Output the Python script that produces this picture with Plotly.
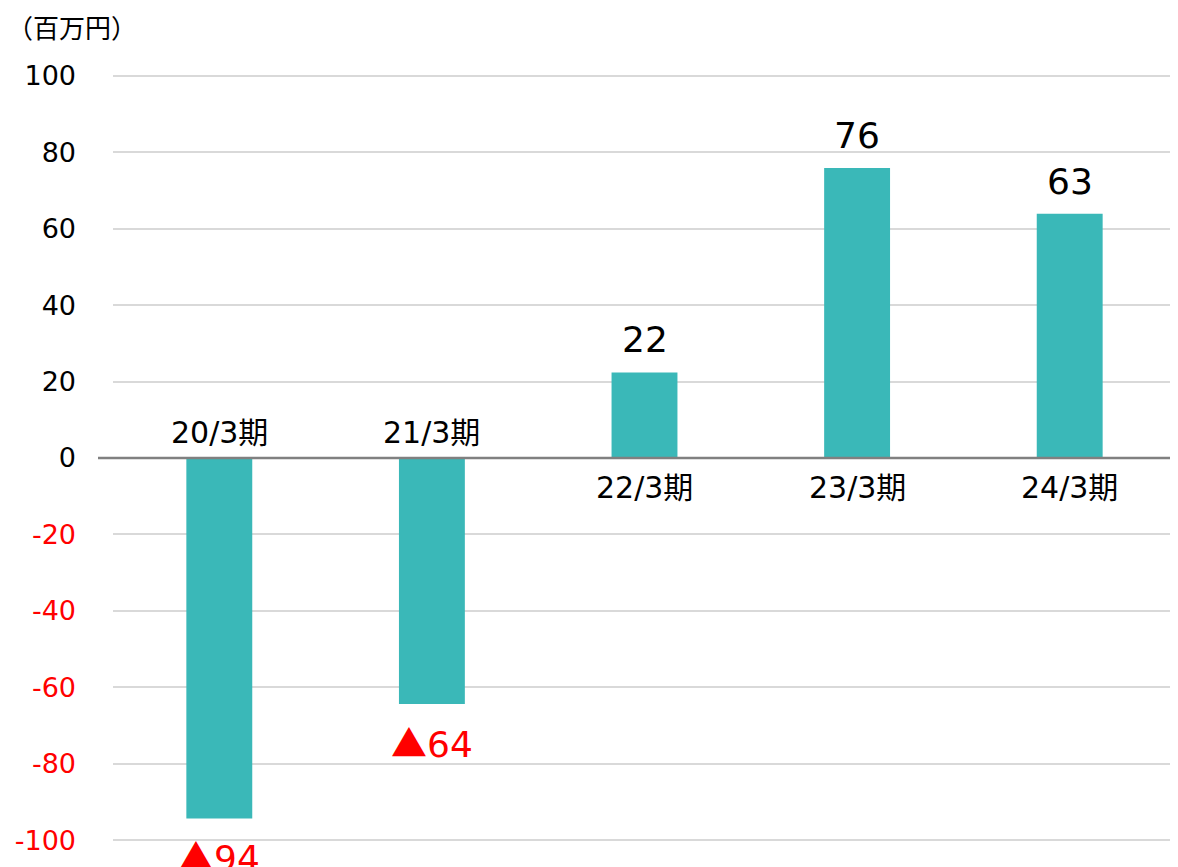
import plotly.graph_objects as go

categories = ["20/3期", "21/3期", "22/3期", "23/3期", "24/3期"]
values = [-94.3, -64.4, 22.4, 75.9, 63.9]
value_labels = ["▲94", "▲64", "22", "76", "63"]
tick_vals = [100, 80, 60, 40, 20, 0, -20, -40, -60, -80, -100]

BAR = "#3ab8b8"
FONT = "DejaVu Sans, Noto Sans CJK JP, sans-serif"
CJK = "Noto Sans CJK JP"

ticktext = [f"<span style='color:#ff0000'>{v}</span>" if v < 0 else str(v) for v in tick_vals]


def fmt_label(s):
    if s.startswith("▲"):
        return f"<span style='font-family:{CJK}'>▲</span>{s[1:]}"
    return s


fig = go.Figure(go.Bar(
    x=categories, y=values, marker=dict(color=BAR, line=dict(width=0)),
    width=0.31, hoverinfo="skip"))

annotations = []
for c, v, lab in zip(categories, values, value_labels):
    neg = v < 0
    annotations.append(dict(
        x=c, y=v, text=fmt_label(lab), showarrow=False, xref="x", yref="y",
        yanchor="top" if neg else "bottom", yshift=-9 if neg else 10,
        font=dict(size=36, color="#ff0000" if neg else "#000000", family=FONT)))
    annotations.append(dict(
        x=c, y=0, text=c, showarrow=False, xref="x", yref="y",
        yanchor="bottom" if neg else "top", yshift=6 if neg else -10,
        font=dict(size=30, color="#000000", family=FONT)))
annotations.append(dict(
    x=0, y=1, xref="paper", yref="paper", xanchor="left", yanchor="bottom",
    xshift=-108, yshift=25, text="（百万円）", showarrow=False,
    font=dict(size=26, color="#000000", family=CJK)))

# the page body adds 8px on the left and top, so the figure is 8px smaller
fig.update_layout(
    width=1170, height=859,
    margin=dict(l=105, r=2, t=64, b=23),
    plot_bgcolor="white", paper_bgcolor="white",
    showlegend=False,
    font=dict(family=FONT, size=27, color="#000000"),
    xaxis=dict(showticklabels=False, showgrid=False, zeroline=False,
               showline=False, ticks=""),
    yaxis=dict(range=[-101, 101], tickvals=tick_vals, ticktext=ticktext,
               showgrid=True, gridcolor="#d9d9d9", gridwidth=2,
               zeroline=False, showline=False, ticks="",
               ticklabelstandoff=36,
               tickfont=dict(size=27, family=FONT, color="#000000")),
    annotations=annotations,
    shapes=[dict(type="line", xref="paper", yref="y", x0=-15/1063, x1=1,
                 y0=0, y1=0, line=dict(color="#808080", width=2.5))],
)

fig.write_html("out.html")
